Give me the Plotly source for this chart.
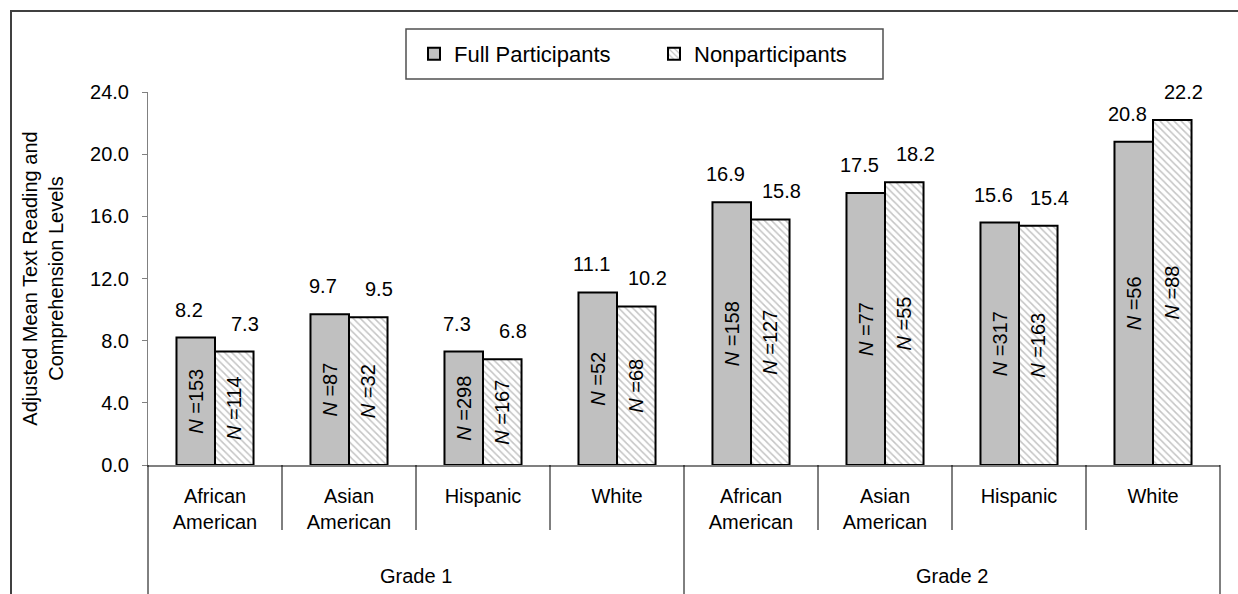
import plotly.graph_objects as go

# Chart data
grades = ["Grade 1"] * 4 + ["Grade 2"] * 4
groups = ["African American", "Asian American", "Hispanic", "White"] * 2
group_ticks = ["African<br>American", "Asian<br>American", "Hispanic", "White"] * 2
full_means = [8.2, 9.7, 7.3, 11.1, 16.9, 17.5, 15.6, 20.8]
non_means = [7.3, 9.5, 6.8, 10.2, 15.8, 18.2, 15.4, 22.2]
full_n = [153, 87, 298, 52, 158, 77, 317, 56]
non_n = [114, 32, 167, 68, 127, 55, 163, 88]
y_ticks = [0, 4, 8, 12, 16, 20, 24]
grade_names = ["Grade 1", "Grade 2"]

FONT = "Liberation Sans, Arial, sans-serif"
W, H = 1238, 594
L, R, T, B = 148, 18, 92, 129
PW, PH = W - L - R, H - T - B


def px_x(px):
    return (px - L) / PW


def px_y(py):
    return (H - B - py) / PH


keys = [f"{g} {e}" for g, e in zip(grades, groups)]

fig = go.Figure()
fig.add_trace(go.Bar(
    x=keys, y=full_means, name="Full Participants",
    marker=dict(color="#c0c0c0", line=dict(color="black", width=2)),
    text=[f"<i>N</i> ={n}" for n in full_n],
    textposition="inside", textangle=-90, insidetextanchor="middle",
    textfont=dict(family=FONT, size=20, color="black"),
    hoverinfo="skip",
))
fig.add_trace(go.Bar(
    x=keys, y=non_means, name="Nonparticipants",
    marker=dict(color="white", line=dict(color="black", width=2),
                pattern=dict(shape="\\", fgcolor="#8a8a8a", bgcolor="white",
                             size=5, solidity=0.3)),
    text=[f"<i>N</i> ={n}" for n in non_n],
    textposition="inside", textangle=-90, insidetextanchor="middle",
    textfont=dict(family=FONT, size=20, color="black"),
    hoverinfo="skip",
))

# Value labels above the bars
annotations = []
for k, v in zip(keys, full_means):
    annotations.append(dict(x=k, y=v, text=f"{v:.1f}", showarrow=False,
                            xshift=-26, yshift=28, yanchor="middle",
                            font=dict(family=FONT, size=20, color="black")))
for k, v in zip(keys, non_means):
    annotations.append(dict(x=k, y=v, text=f"{v:.1f}", showarrow=False,
                            xshift=30, yshift=28, yanchor="middle",
                            font=dict(family=FONT, size=20, color="black")))

# Grade labels under each group of four categories
for i, g in enumerate(grade_names):
    annotations.append(dict(x=i * 4 + 1.5, xref="x", y=px_y(576), yref="paper",
                            text=g, showarrow=False, yanchor="middle",
                            font=dict(family=FONT, size=20, color="black")))

shapes = []
# Category separators below the axis
for k in range(9):
    long = k in (0, 4, 8)
    shapes.append(dict(type="line", xref="paper", yref="paper",
                       x0=k / 8, x1=k / 8, y0=0,
                       y1=px_y(600) if long else px_y(530),
                       line=dict(color="black", width=1)))
# Legend frame
shapes.append(dict(type="rect", xref="paper", yref="paper",
                   x0=px_x(406), x1=px_x(883), y0=px_y(79), y1=px_y(29),
                   line=dict(color="#505050", width=1.5), fillcolor="rgba(0,0,0,0)"))
# Outer chart frame
shapes.append(dict(type="rect", xref="paper", yref="paper",
                   x0=px_x(11), x1=px_x(1250), y0=px_y(610), y1=px_y(11),
                   line=dict(color="#404040", width=2), fillcolor="rgba(0,0,0,0)"))

fig.update_layout(
    width=W, height=H, autosize=False,
    margin=dict(l=L, r=R, t=T, b=B, pad=0),
    paper_bgcolor="white", plot_bgcolor="white",
    font=dict(family=FONT, size=20, color="black"),
    barmode="group", bargap=0.425, bargroupgap=0,
    showlegend=True,
    legend=dict(orientation="h", x=px_x(414), y=px_y(54), xanchor="left",
                yanchor="middle", bgcolor="rgba(0,0,0,0)", borderwidth=0,
                font=dict(family=FONT, size=22, color="black"),
                entrywidth=195, entrywidthmode="pixels", traceorder="normal"),
    xaxis=dict(type="category", range=[-0.5, 7.5], tickvals=keys, ticktext=group_ticks,
               showline=True, linecolor="#808080", linewidth=1.5,
               ticks="", showgrid=False, zeroline=False, ticklabelstandoff=12,
               tickfont=dict(family=FONT, size=20, color="black")),
    yaxis=dict(range=[0, 24], tickvals=y_ticks, tickformat=".1f",
               ticks="outside", ticklen=5, tickcolor="#808080", tickwidth=1,
               showline=True, linecolor="#808080", linewidth=1,
               showgrid=False, zeroline=False, ticklabelstandoff=9,
               tickfont=dict(family=FONT, size=20, color="black"),
               title=dict(text="Adjusted Mean Text Reading and<br>Comprehension Levels",
                          font=dict(family=FONT, size=20, color="black"), standoff=21)),
    annotations=annotations,
    shapes=shapes,
)

fig.write_html("out.html")
